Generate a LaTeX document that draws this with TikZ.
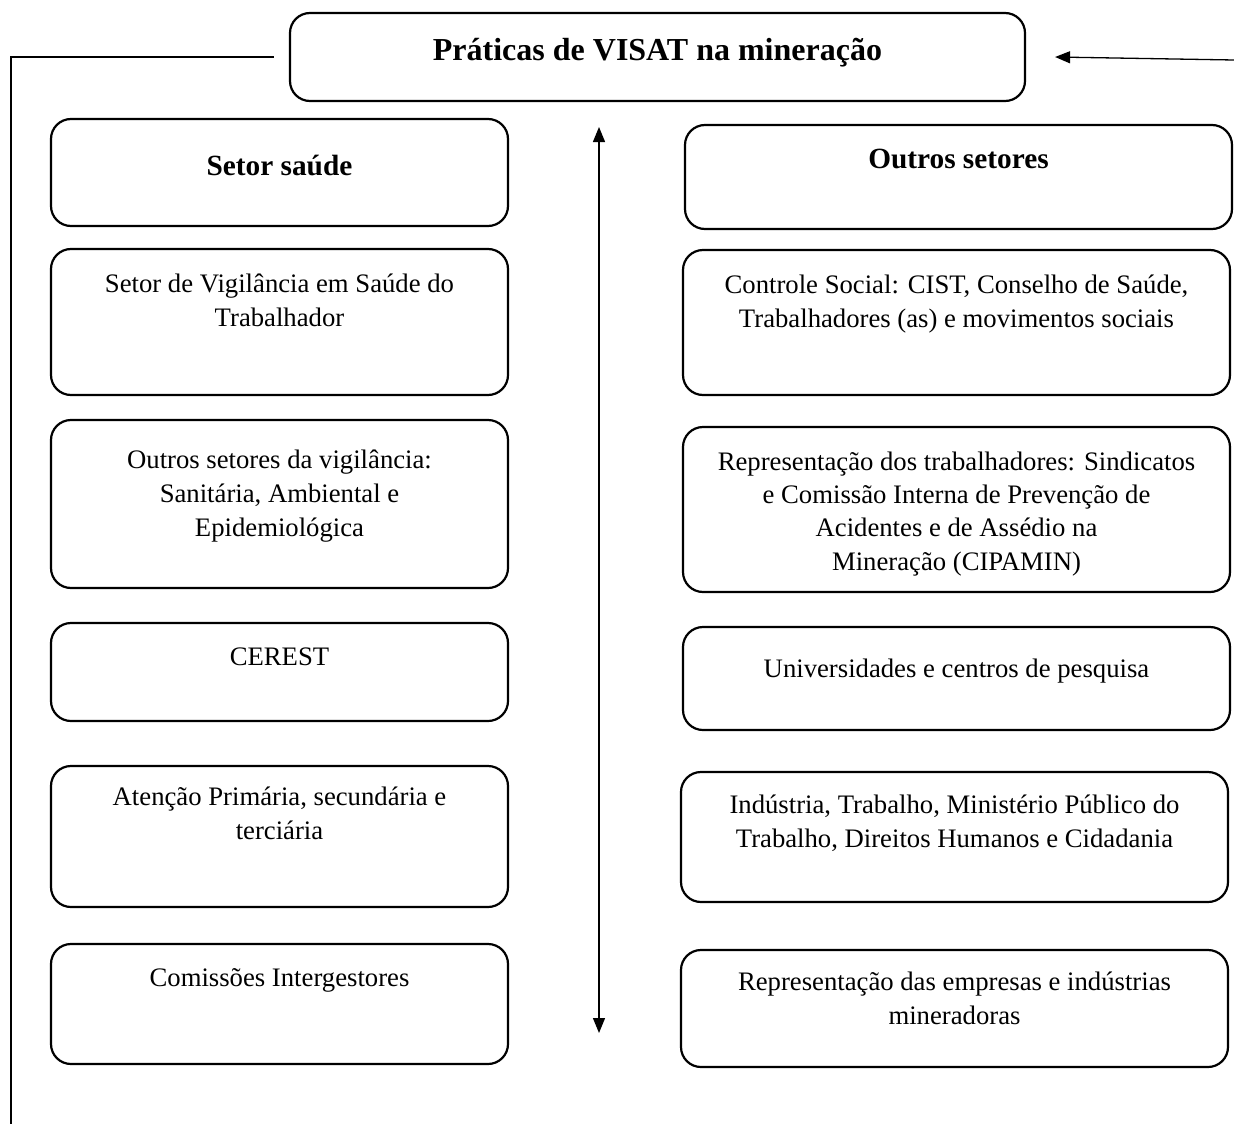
\documentclass[tikz,border=0pt]{standalone}
\usepackage{fontspec}
\setmainfont{Liberation Serif}
\usetikzlibrary{arrows.meta}
\begin{document}
\begin{tikzpicture}[x=1pt,y=-1pt,
  box/.style={draw, line width=2.2pt, rounded corners=20pt, inner sep=0pt},
  conn/.style={draw, line width=1.3pt},
  endarrow/.style={-{Triangle[length=15pt,width=12pt]}},
  botharrow/.style={{Triangle[length=15pt,width=12pt]}-{Triangle[length=15pt,width=12pt]}},
  body/.style={font=\fontsize{26.7}{34}\selectfont, align=center, inner sep=0pt, anchor=north},
  bodyone/.style={font=\fontsize{26.7}{34}\selectfont, inner sep=0pt, anchor=base},
  head/.style={font=\fontsize{29.3}{35}\selectfont\bfseries, inner sep=0pt, anchor=base},
  titletext/.style={font=\fontsize{32}{38}\selectfont\bfseries, inner sep=0pt, anchor=base}]
\useasboundingbox (0,0) rectangle (1234,1124);

% title
\node[box, minimum width=735pt, minimum height=88pt] (title) at (657.5,57) {};
\node[titletext] (titlet) at (657.5,60) {Práticas de VISAT na mineração};

% left column
\node[box, minimum width=457pt, minimum height=107pt] (l1) at (279.5,172.5) {};
\node[head] (l1t) at (279.5,175) {Setor saúde};
\node[box, minimum width=457pt, minimum height=146pt] (l2) at (279.5,322) {};
\node[body] (l2t) at (279.5,268.2) {\strut Setor de Vigilância em Saúde do\\Trabalhador};
\node[box, minimum width=457pt, minimum height=168pt] (l3) at (279.5,504) {};
\node[body] (l3t) at (279.5,444.2) {\strut Outros setores da vigilância:\\Sanitária, Ambiental e\\Epidemiológica};
\node[box, minimum width=457pt, minimum height=98pt] (l4) at (279.5,672) {};
\node[bodyone] (l4t) at (279.5,665) {CEREST};
\node[box, minimum width=457pt, minimum height=141pt] (l5) at (279.5,836.5) {};
\node[body] (l5t) at (279.5,781.2) {\strut Atenção Primária, secundária e\\terciária};
\node[box, minimum width=457pt, minimum height=120pt] (l6) at (279.5,1004) {};
\node[bodyone] (l6t) at (279.5,986) {Comissões Intergestores};

% right column
\node[box, minimum width=547pt, minimum height=104pt] (r1) at (958.5,177) {};
\node[head] (r1t) at (958.5,168) {Outros setores};
\node[box, minimum width=547pt, minimum height=145pt] (r2) at (956.5,322.5) {};
\node[body] (r2t) at (956.5,269.2) {\strut Controle Social: CIST, Conselho de Saúde,\\Trabalhadores (as) e movimentos sociais};
\node[box, minimum width=547pt, minimum height=165pt] (r3) at (956.5,509.5) {};
\node[body, font=\fontsize{26.7}{33.3}\selectfont] (r3t) at (956.5,446.7) {\strut Representação dos trabalhadores: Sindicatos\\e Comissão Interna de Prevenção de\\Acidentes e de Assédio na\\Mineração (CIPAMIN)};
\node[box, minimum width=547pt, minimum height=103pt] (r4) at (956.5,678.5) {};
\node[bodyone] (r4t) at (956.5,677) {Universidades e centros de pesquisa};
\node[box, minimum width=547pt, minimum height=130pt] (r5) at (954.5,837) {};
\node[body] (r5t) at (954.5,789.2) {\strut Indústria, Trabalho, Ministério Público do\\Trabalho, Direitos Humanos e Cidadania};
\node[box, minimum width=547pt, minimum height=117pt] (r6) at (954.5,1008.5) {};
\node[body] (r6t) at (954.5,966.2) {\strut Representação das empresas e indústrias\\mineradoras};

% connectors
\coordinate (lcorner) at (11,57);
\coordinate (lend) at (11,1124);
\coordinate (rstart) at (1234,60);
\coordinate (vtop) at (599,127);
\coordinate (vbot) at (599,1033);
\draw[conn] ([xshift=-15pt]title.west) -- (lcorner) -- (lend);
\draw[conn, endarrow] (rstart) -- ([xshift=29pt]title.east);
\draw[conn, botharrow] (vtop) -- (vbot);
\end{tikzpicture}
\end{document}
